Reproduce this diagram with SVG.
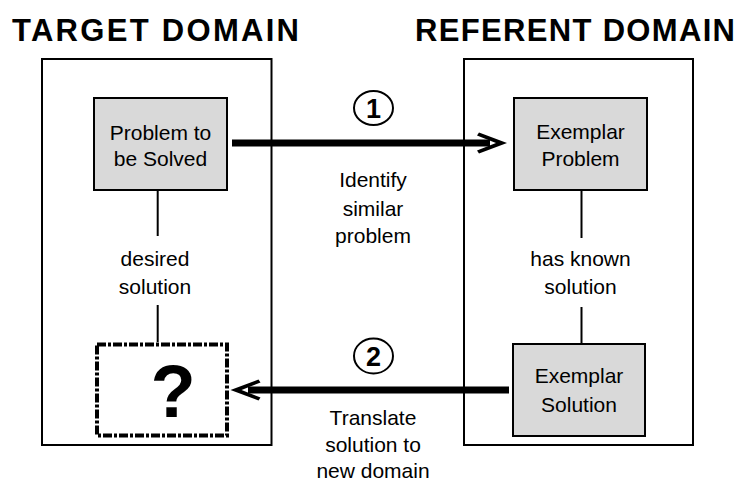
<svg xmlns="http://www.w3.org/2000/svg" xmlns:xlink="http://www.w3.org/1999/xlink" width="740" height="484" viewBox="0 0 740 484">
<style>
.title{font-family:"Liberation Sans",Arial,sans-serif;font-weight:bold;font-size:31px;fill:#000;text-anchor:middle}
.lbl{font-family:"Liberation Sans",Arial,sans-serif;font-size:21px;fill:#000;text-anchor:middle}
.num{font-family:"Liberation Sans",Arial,sans-serif;font-weight:bold;font-size:27px;fill:#000;text-anchor:middle}
.domain{fill:none;stroke:#000;stroke-width:2}
.node{fill:#d9d9d9;stroke:#000;stroke-width:2}
.dash{fill:none;stroke:#000;stroke-width:4;stroke-dasharray:9 2 3 2}
.link{stroke:#000;stroke-width:2;fill:none}
.shaft{stroke:#000;stroke-width:7;fill:none}
.badge{fill:#fff;stroke:#000;stroke-width:2}
</style>
<defs>
<path id="ah" d="M0,0 L-28,-10.5 L-30,-7.5 L-11,0 L-30,7.5 L-28,10.5 Z" fill="#000"/>
</defs>
<text class="title" x="155.5" y="40.5" textLength="287" lengthAdjust="spacing">TARGET DOMAIN</text>
<text class="title" x="575" y="40.5" textLength="320" lengthAdjust="spacing">REFERENT DOMAIN</text>
<g id="target-domain"><rect class="domain" x="42" y="59" width="229.5" height="386"/></g>
<g id="referent-domain"><rect class="domain" x="464" y="59" width="229" height="386"/></g>
<g id="connectors">
<line class="link" x1="157.7" y1="191" x2="157.7" y2="236"/>
<line class="link" x1="157.7" y1="305" x2="157.7" y2="342"/>
<line class="link" x1="581.5" y1="191" x2="581.5" y2="238"/>
<line class="link" x1="581.5" y1="307" x2="581.5" y2="343"/>
<line class="shaft" x1="232" y1="143" x2="490" y2="143"/>
<use xlink:href="#ah" href="#ah" transform="translate(507,143)"/>
<line class="shaft" x1="509" y1="390" x2="248" y2="390"/>
<use xlink:href="#ah" href="#ah" transform="translate(230.5,390) scale(-1,1)"/>
</g>
<g id="label-desired"><text class="lbl" x="155" y="266">desired</text><text class="lbl" x="155" y="294">solution</text></g>
<g id="label-known"><text class="lbl" x="580.5" y="266">has known</text><text class="lbl" x="580.5" y="294">solution</text></g>
<g id="step1">
<ellipse class="badge" cx="373.5" cy="108" rx="19.5" ry="17"/>
<text class="num" x="373.5" y="118">1</text>
<text class="lbl" x="373" y="187">Identify</text>
<text class="lbl" x="373" y="216">similar</text>
<text class="lbl" x="373" y="243">problem</text>
</g>
<g id="step2">
<ellipse class="badge" cx="373.5" cy="356" rx="19.5" ry="17.5"/>
<text class="num" x="373.5" y="366">2</text>
<text class="lbl" x="373" y="425">Translate</text>
<text class="lbl" x="373" y="452">solution to</text>
<text class="lbl" x="373" y="478">new domain</text>
</g>
<g id="problem-to-be-solved">
<rect class="node" x="94" y="98" width="133" height="92"/>
<text class="lbl" x="160.5" y="140">Problem to</text>
<text class="lbl" x="160.5" y="166">be Solved</text>
</g>
<g id="unknown-solution">
<rect class="dash" x="97" y="344.5" width="130" height="91"/>
<text x="173" y="417" style="font-family:'Liberation Sans',Arial,sans-serif;font-weight:bold;font-size:74px;text-anchor:middle;fill:#000">?</text>
</g>
<g id="exemplar-problem">
<rect class="node" x="514" y="98" width="133" height="92"/>
<text class="lbl" x="580.5" y="139">Exemplar</text>
<text class="lbl" x="580.5" y="166">Problem</text>
</g>
<g id="exemplar-solution">
<rect class="node" x="513" y="344" width="132" height="92"/>
<text class="lbl" x="579" y="383">Exemplar</text>
<text class="lbl" x="579" y="412">Solution</text>
</g>
</svg>
